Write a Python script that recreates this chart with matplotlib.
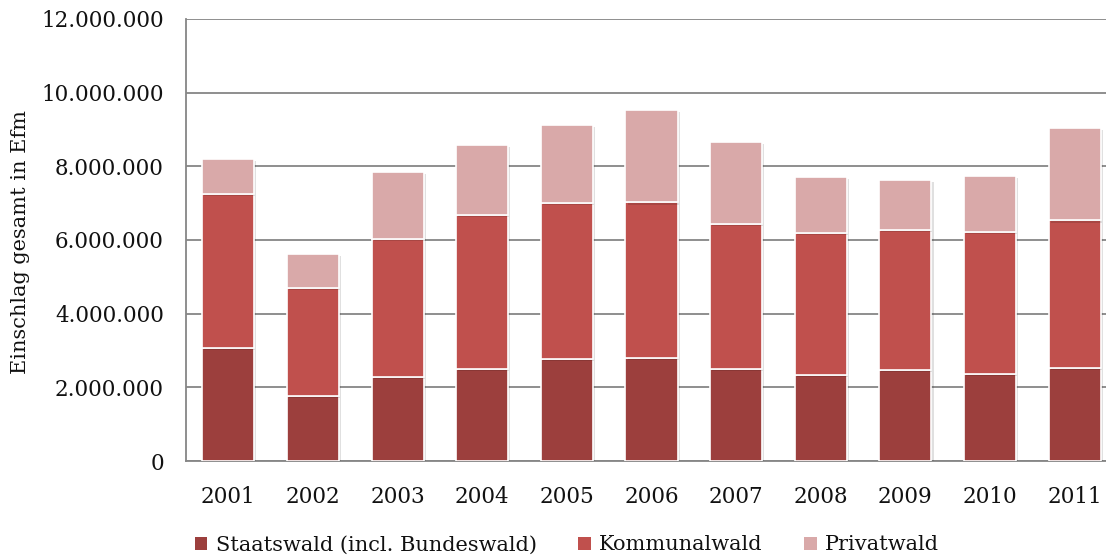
import numpy as np
import matplotlib
matplotlib.use("Agg")
import matplotlib.pyplot as plt
import matplotlib.patheffects as pe
from matplotlib.patches import Patch
from matplotlib.ticker import FuncFormatter

plt.rcParams['font.family'] = ['DejaVu Serif']

years = ['2001', '2002', '2003', '2004', '2005', '2006', '2007', '2008', '2009', '2010', '2011']
# Einschlag in Efm, kumulierte Obergrenzen je Besitzart
staatswald = [3070000, 1760000, 2280000, 2500000, 2770000, 2800000, 2500000, 2330000, 2460000, 2370000, 2530000]
bis_kommunal = [7250000, 4690000, 6020000, 6680000, 7000000, 7020000, 6440000, 6180000, 6270000, 6210000, 6530000]
bis_privat = [8210000, 5630000, 7840000, 8570000, 9120000, 9520000, 8660000, 7700000, 7630000, 7740000, 9050000]

kommunalwald = [k - s for k, s in zip(bis_kommunal, staatswald)]
privatwald = [p - k for p, k in zip(bis_privat, bis_kommunal)]

labels = ['Staatswald (incl. Bundeswald)', 'Kommunalwald', 'Privatwald']
colors = ['#9c3f3d', '#c0504d', '#d9a9a9']

fig = plt.figure(figsize=(11.06, 5.6), dpi=100)
ax = fig.add_axes([186 / 1106, 1 - 461 / 560, 931 / 1106, 442 / 560])

x = np.arange(len(years))
shadow = [pe.SimplePatchShadow(offset=(1.5, -1.5), shadow_rgbFace='#000000', alpha=0.12), pe.Normal()]
bottom = np.zeros(len(years))
for vals, col in zip([staatswald, kommunalwald, privatwald], colors):
    bars = ax.bar(x, vals, bottom=bottom, width=0.615, color=col,
                  edgecolor='white', linewidth=1.2, zorder=3)
    for b in bars:
        b.set_path_effects(shadow)
    bottom += np.array(vals)

ax.set_xlim(-0.5, len(years) - 0.5)
ax.set_ylim(0, 12000000)
ax.set_yticks(np.arange(0, 12000001, 2000000))
ax.yaxis.set_major_formatter(FuncFormatter(lambda v, p: f"{int(v):,}".replace(",", ".")))
ax.set_xticks(x)
ax.set_xticklabels(years)
ax.tick_params(axis='both', length=0, labelsize=15.5, colors='#111111')
ax.tick_params(axis='x', pad=18)
ax.tick_params(axis='y', pad=16)

ax.grid(axis='y', color='#868686', linewidth=1.3, zorder=0)
ax.set_axisbelow(True)
for side in ['top', 'right']:
    ax.spines[side].set_visible(False)
for side in ['left', 'bottom']:
    ax.spines[side].set_color('#868686')
    ax.spines[side].set_linewidth(1.3)

fig.text(21 / 1106, 1 - 242 / 560, 'Einschlag gesamt in Efm', rotation=90,
         ha='center', va='center', fontsize=15, color='#111111')

handles = [Patch(facecolor=c, edgecolor='none') for c in colors]
fig.legend(handles, labels, loc='center', bbox_to_anchor=(567 / 1106, 1 - 545 / 560),
           ncol=3, frameon=False, fontsize=15, handlelength=0.6, handleheight=0.6,
           handletextpad=0.4, columnspacing=2.0, labelcolor='#111111')

fig.savefig('out.png', dpi=100)
